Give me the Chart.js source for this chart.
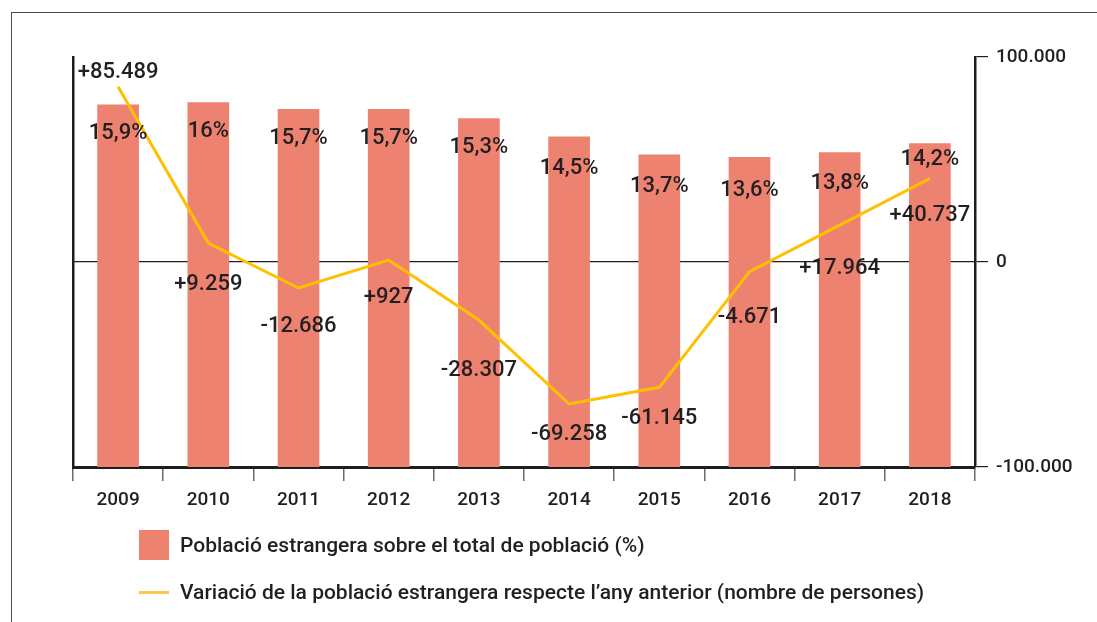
<!DOCTYPE html>
<html>
<head>
<meta charset="utf-8">
<script src="https://cdn.jsdelivr.net/npm/chart.js@4"></script>
<style>
  html, body { margin: 0; padding: 0; background: #fff; }
  #wrap { position: relative; width: 1097px; height: 622px; overflow: hidden; font-family: Roboto, "DejaVu Sans", sans-serif; color: #231f20; }
  #frame { position: absolute; left: 11px; top: 12px; right: -5px; bottom: -5px; border-left: 1.5px solid #4a4a4a; border-top: 1.5px solid #4a4a4a; }
  #chart { position: absolute; left: 0; top: 0; }
  .legend-row { position: absolute; left: 139px; display: flex; align-items: center; font-size: 21px; font-weight: 500; }
  .swatch-bar { width: 30px; height: 30px; background: #ee8270; margin-right: 11px; }
  .swatch-line { width: 30px; height: 3px; background: #ffc54d; margin-right: 11px; }
</style>
</head>
<body>
<div id="wrap">
  <div id="frame"></div>
  <canvas id="chart" width="1097" height="622"></canvas>
  <div class="legend-row" style="top:530px;height:30px;"><div class="swatch-bar"></div><span>Població estrangera sobre el total de població (%)</span></div>
  <div class="legend-row" style="top:577px;height:30px;"><div class="swatch-line"></div><span>Variació de la població estrangera respecte l’any anterior (nombre de persones)</span></div>
</div>
<script>
// dades
const years = ['2009', '2010', '2011', '2012', '2013', '2014', '2015', '2016', '2017', '2018'];
const pctForeign = [15.9, 16, 15.7, 15.7, 15.3, 14.5, 13.7, 13.6, 13.8, 14.2];
const yearlyChange = [85489, 9259, -12686, 927, -28307, -69258, -61145, -4671, 17964, 40737];
const changeTicks = [-100000, 0, 100000];

// desplaçament vertical de les etiquetes respecte la marca (px)
const pctLabelDy = [29, 29, 29, 29, 29, 32, 32, 33, 31, 16];
const changeLabelDy = [-14, 41, 38, 37, 50, 31, 31, 46, 43, 37];

const textColor = '#231f20';
const axisColor = '#1e1e1e';

function fmtThousands(v) {
    const s = Math.abs(v).toString().replace(/\B(?=(\d{3})+(?!\d))/g, '.');
    return (v < 0 ? '-' : '') + s;
}
function fmtChange(v) {
    return (v > 0 ? '+' : '') + fmtThousands(v);
}
function fmtPct(v) {
    return v.toString().replace('.', ',') + '%';
}

// etiquetes de valor sobre barres i línia
const valueLabels = {
    id: 'valueLabels',
    afterDatasetsDraw(chart) {
        const ctx = chart.ctx;
        ctx.save();
        ctx.font = '500 22px Roboto';
        ctx.fillStyle = textColor;
        ctx.textAlign = 'center';
        ctx.textBaseline = 'middle';

        const bars = chart.getDatasetMeta(1).data;
        bars.forEach((bar, i) => {
            ctx.fillText(fmtPct(pctForeign[i]), bar.x, bar.y + pctLabelDy[i]);
        });

        const pts = chart.getDatasetMeta(0).data;
        pts.forEach((pt, i) => {
            ctx.fillText(fmtChange(yearlyChange[i]), pt.x, pt.y + changeLabelDy[i]);
        });
        ctx.restore();
    }
};

const ctx = document.getElementById('chart').getContext('2d');
new Chart(ctx, {
    data: {
        labels: years,
        datasets: [{
            type: 'line',
            label: 'Variació de la població estrangera respecte l’any anterior (nombre de persones)',
            data: yearlyChange,
            yAxisID: 'yChange',
            borderColor: '#ffc000',
            borderWidth: 3,
            pointRadius: 0,
            tension: 0,
            order: 0
        }, {
            type: 'bar',
            label: 'Població estrangera sobre el total de població (%)',
            data: pctForeign,
            yAxisID: 'yPct',
            backgroundColor: '#ee8270',
            barThickness: 41,
            order: 1
        }]
    },
    options: {
        responsive: false,
        devicePixelRatio: 1,
        animation: false,
        layout: { padding: { top: 57, left: 0, right: 0, bottom: 0 } },
        plugins: {
            legend: { display: false },
            tooltip: { enabled: false }
        },
        scales: {
            x: {
                grid: { offset: true, drawOnChartArea: false, tickLength: 14, tickColor: '#6b6b6b', lineWidth: 1.5 },
                border: { color: axisColor, width: 3 },
                ticks: { color: textColor, font: { family: 'Roboto', size: 19, weight: '500' }, padding: 8, maxRotation: 0 },
                afterFit: s => { s.height = 155; }
            },
            yPct: {
                position: 'left',
                min: 0,
                max: 18,
                ticks: { display: false },
                grid: { display: false },
                border: { color: axisColor, width: 2.5 },
                afterFit: s => { s.width = 73; }
            },
            yChange: {
                position: 'right',
                min: -100000,
                max: 100000,
                afterBuildTicks: s => { s.ticks = changeTicks.map(v => ({ value: v })); },
                ticks: {
                    color: textColor,
                    font: { family: 'Roboto', size: 19, weight: '500' },
                    padding: 8,
                    callback: v => fmtThousands(v)
                },
                grid: {
                    color: c => (c.tick && c.tick.value === 0 ? axisColor : 'transparent'),
                    tickColor: axisColor,
                    tickLength: 13,
                    lineWidth: 1.2
                },
                border: { color: axisColor, width: 2.5 },
                afterFit: s => { s.width = 122; }
            }
        }
    },
    plugins: [valueLabels]
});
</script>
</body>
</html>
